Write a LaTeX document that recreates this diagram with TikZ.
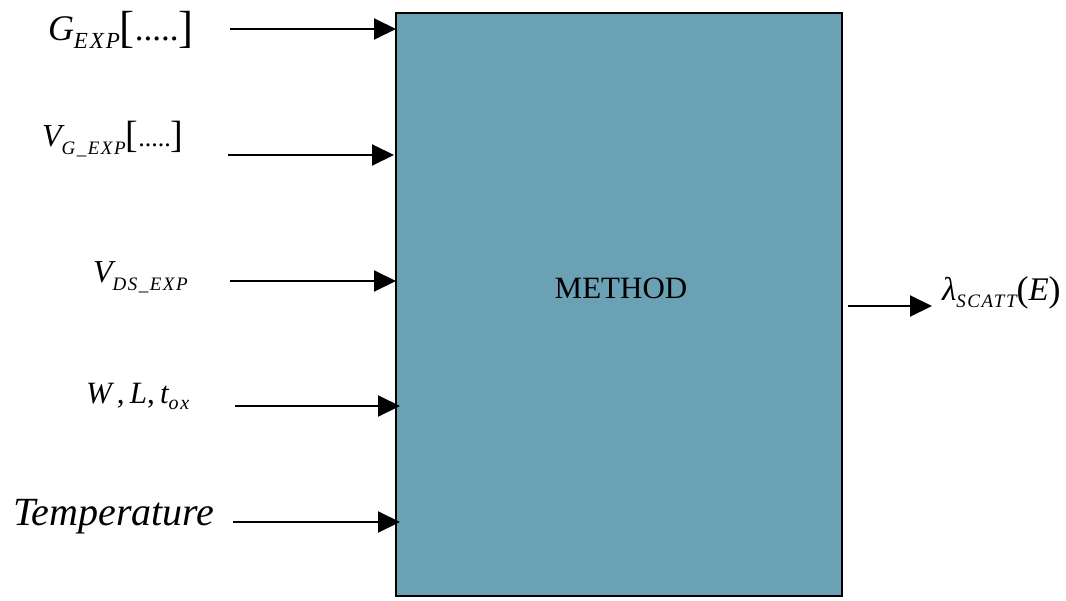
\documentclass[tikz,border=0pt]{standalone}
\usepackage{fontspec}
\setmainfont{Liberation Serif}
\usetikzlibrary{arrows.meta}
\definecolor{boxfill}{RGB}{107,161,181}
\newcommand{\fs}[1]{\fontsize{#1}{#1}\selectfont}
\newcommand{\lowsub}[3]{\raisebox{-#3pt}{\fs{#1}\itshape\addfontfeatures{LetterSpace=8}#2}}
\tikzset{
  lbl/.style={inner sep=0pt, outer sep=0pt, anchor=base west},
  inarrow/.style={line width=2pt, -{Triangle[length=22pt,width=21pt]}},
  mainbox/.style={draw=black, line width=2pt, fill=boxfill, inner sep=0pt, outer sep=0pt,
    minimum width=446pt, minimum height=583pt}
}
\begin{document}
\begin{tikzpicture}[x=1pt,y=-1pt]
\useasboundingbox (0,0) rectangle (1066,600);
\node[mainbox] (m) at (619,304.5) {};
\node[lbl, anchor=base] (mtext) at (621,298) {\fs{31}METHOD};

% labels
\node[lbl] (g) at (48,40) {\fs{36}\itshape G\lowsub{23}{EXP}{8}\upshape\raisebox{-2pt}{\fs{45}[}\fs{35}.....\raisebox{-2pt}{\fs{45}]}};
\node[lbl] (vg) at (42,146) {\fs{32}\itshape V\lowsub{19}{G\_EXP}{8}\upshape\raisebox{-1pt}{\fs{38}[}\fs{26}.....\raisebox{-1pt}{\fs{38}]}};
\node[lbl] (vds) at (93,282) {\fs{32}\itshape V\lowsub{19}{DS\_EXP}{8}};
\node[lbl] (wlt) at (86,403) {\fs{31}\itshape W\,\upshape,\,\itshape L\upshape,\,\itshape t\lowsub{20}{ox}{6}};
\node[lbl] (temp) at (13,525) {\fs{40}\itshape Temperature};
\node[lbl] (lam) at (942,300) {\fs{33}\itshape λ\lowsub{19}{SCATT}{7}\upshape\raisebox{-1pt}{\fs{36}(}\itshape E\upshape\raisebox{-1pt}{\fs{36})}};

% arrow start points
\coordinate (s1) at (230,29);
\coordinate (s2) at (228,155);
\coordinate (s3) at (230,281);
\coordinate (s4) at (235,406);
\coordinate (s5) at (233,522);
\coordinate (oe) at (932,306);

\draw[inarrow] (s1) -- (m.west |- s1);
\draw[inarrow] (s2) -- ([xshift=-2pt]m.west |- s2);
\draw[inarrow] (s3) -- (m.west |- s3);
\draw[inarrow] (s4) -- ([xshift=4pt]m.west |- s4);
\draw[inarrow] (s5) -- ([xshift=4pt]m.west |- s5);
\draw[inarrow] ([xshift=6pt]m.east |- oe) -- (oe);
\end{tikzpicture}
\end{document}
